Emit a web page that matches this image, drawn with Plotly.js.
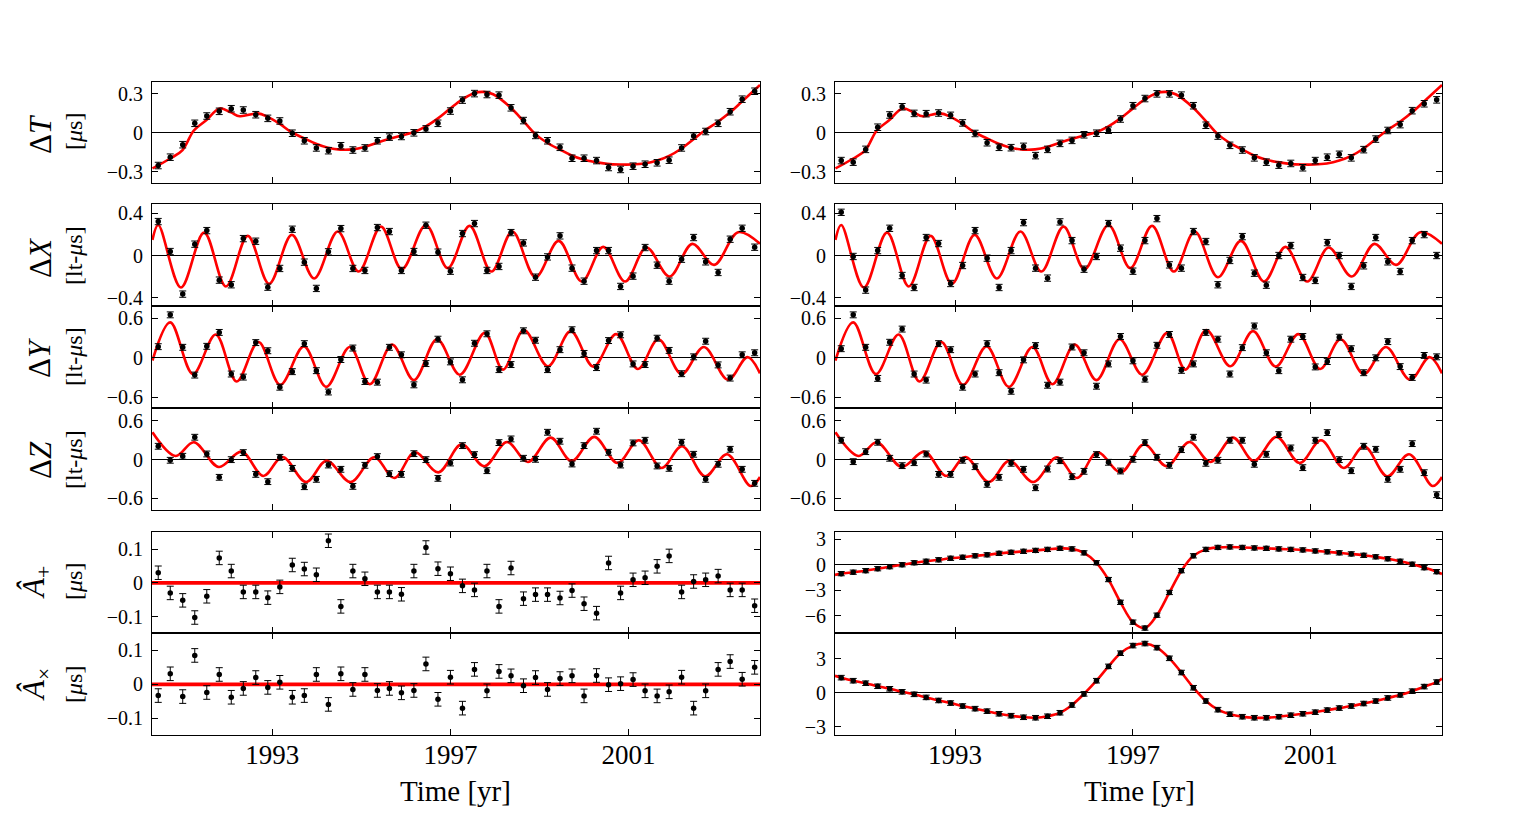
<!DOCTYPE html>
<html><head><meta charset="utf-8">
<script src="https://cdn.plot.ly/plotly-3.0.1.min.js"></script>
<style>html,body{margin:0;padding:0;background:#fff;overflow:hidden}</style>
</head><body><div id="chart" style="width:1517px;height:817px"></div>
<script>
// ---- data: observation epochs [yr] ----
const t = [1990.44,1990.71,1990.99,1991.26,1991.53,1991.81,1992.08,1992.35,1992.63,1992.90,
1993.17,1993.45,1993.72,1993.99,1994.26,1994.54,1994.81,1995.08,1995.36,1995.63,
1995.90,1996.18,1996.45,1996.72,1997.00,1997.27,1997.54,1997.82,1998.09,1998.36,
1998.64,1998.91,1999.18,1999.46,1999.73,2000.00,2000.28,2000.55,2000.82,2001.10,
2001.37,2001.64,2001.91,2002.19,2002.46,2002.73,2003.01,2003.28,2003.55,2003.83];

// ---- measured points (left column) ----
const dT_L = [-0.251,-0.187,-0.091,0.073,0.129,0.165,0.185,0.175,0.139,0.111,0.091,-0.003,-0.061,-0.116,-0.137,-0.099,-0.132,-0.116,-0.061,-0.033,-0.028,0.000,0.030,0.073,0.167,0.251,0.301,0.294,0.289,0.192,0.094,-0.020,-0.061,-0.111,-0.195,-0.195,-0.213,-0.266,-0.281,-0.256,-0.241,-0.230,-0.210,-0.116,-0.025,0.010,0.073,0.162,0.258,0.319];
const dX_L = [0.323,0.038,-0.367,0.108,0.237,-0.234,-0.278,0.161,0.136,-0.301,-0.123,0.250,-0.063,-0.313,0.035,0.256,-0.123,-0.142,0.266,0.228,-0.142,0.038,0.288,0.032,-0.149,0.209,0.304,-0.142,-0.104,0.218,0.120,-0.206,-0.013,0.187,-0.120,-0.244,0.047,0.047,-0.294,-0.196,0.076,-0.092,-0.244,-0.035,0.171,-0.060,-0.161,0.155,0.259,0.079];
const dY_L = [0.170,0.655,0.160,-0.263,0.175,0.387,-0.247,-0.294,0.232,0.108,-0.448,-0.211,0.216,-0.196,-0.521,-0.026,0.149,-0.361,-0.371,0.160,0.046,-0.412,-0.088,0.284,-0.062,-0.335,0.222,0.366,-0.180,-0.103,0.412,0.268,-0.180,0.124,0.428,0.067,-0.149,0.263,0.351,-0.093,-0.103,0.299,0.113,-0.242,0.015,0.253,-0.108,-0.309,0.046,0.077];
const dZ_L = [0.207,-0.010,0.052,0.347,0.088,-0.274,0.000,0.109,-0.228,-0.341,0.036,-0.135,-0.419,-0.305,-0.083,-0.150,-0.414,-0.088,0.047,-0.217,-0.228,0.093,0.000,-0.290,-0.052,0.217,0.078,-0.171,0.264,0.321,0.021,0.005,0.424,0.285,-0.067,0.217,0.440,0.114,-0.083,0.259,0.300,-0.098,-0.135,0.269,0.083,-0.305,-0.072,0.160,-0.150,-0.367];
const Ap_L = [0.030,-0.030,-0.052,-0.103,-0.040,0.074,0.035,-0.027,-0.027,-0.044,-0.012,0.053,0.041,0.024,0.125,-0.070,0.035,0.012,-0.027,-0.027,-0.034,0.035,0.105,0.042,0.027,-0.009,-0.021,0.035,-0.070,0.044,-0.047,-0.035,-0.035,-0.045,-0.023,-0.062,-0.090,0.059,-0.030,0.009,0.015,0.049,0.080,-0.027,0.004,0.009,0.020,-0.021,-0.021,-0.068];
const Ax_L = [-0.033,0.031,-0.036,0.085,-0.024,0.029,-0.038,-0.012,0.020,-0.009,0.006,-0.038,-0.033,0.029,-0.059,0.031,-0.015,0.029,-0.018,-0.012,-0.025,-0.018,0.060,-0.044,0.021,-0.070,0.044,-0.019,0.038,0.025,-0.004,0.020,-0.015,0.017,0.025,-0.034,0.026,-0.001,0.002,0.014,-0.019,-0.034,-0.022,0.021,-0.070,-0.019,0.044,0.067,0.015,0.050];

// ---- measured points (right column) ----
const dT_R = [-0.213,-0.225,-0.127,0.043,0.137,0.200,0.149,0.147,0.152,0.134,0.076,-0.005,-0.076,-0.111,-0.114,-0.104,-0.175,-0.127,-0.081,-0.058,-0.015,-0.003,0.020,0.106,0.208,0.263,0.299,0.299,0.289,0.208,0.058,-0.025,-0.096,-0.132,-0.192,-0.225,-0.248,-0.235,-0.268,-0.213,-0.187,-0.165,-0.192,-0.129,-0.048,0.018,0.063,0.170,0.223,0.253];
const dX_R = [0.411,-0.009,-0.329,0.047,0.259,-0.190,-0.304,0.171,0.114,-0.266,-0.095,0.237,-0.025,-0.304,0.047,0.313,-0.120,-0.215,0.320,0.142,-0.130,-0.009,0.304,0.070,-0.149,0.142,0.351,-0.089,-0.120,0.228,0.133,-0.278,-0.047,0.180,-0.168,-0.282,0.000,0.095,-0.209,-0.237,0.123,0.000,-0.294,-0.098,0.171,-0.060,-0.152,0.142,0.199,0.000];
const dY_R = [0.139,0.655,0.160,-0.314,0.237,0.438,-0.247,-0.340,0.216,0.124,-0.448,-0.247,0.216,-0.227,-0.510,-0.031,0.186,-0.418,-0.371,0.165,0.077,-0.433,-0.093,0.325,-0.046,-0.325,0.191,0.356,-0.191,-0.093,0.387,0.284,-0.247,0.155,0.485,0.077,-0.196,0.284,0.325,-0.139,-0.057,0.314,0.139,-0.227,0.000,0.247,-0.134,-0.299,0.036,0.015];
const dZ_R = [0.300,-0.031,0.124,0.269,0.021,-0.093,-0.047,0.088,-0.228,-0.228,-0.010,-0.109,-0.383,-0.274,-0.057,-0.150,-0.435,-0.145,-0.016,-0.264,-0.181,0.078,-0.041,-0.176,0.005,0.264,0.036,-0.088,0.155,0.347,-0.057,-0.010,0.300,0.300,-0.072,0.083,0.388,0.181,-0.124,0.300,0.419,0.000,-0.171,0.207,0.160,-0.305,-0.150,0.248,-0.202,-0.543];
const Ap_R = [-1.05,-0.88,-0.70,-0.47,-0.23,0.00,0.23,0.41,0.58,0.76,0.88,1.05,1.17,1.34,1.46,1.58,1.69,1.81,1.93,1.87,1.40,0.23,-1.75,-4.43,-6.77,-7.47,-5.95,-3.27,-0.70,1.05,1.81,2.04,2.10,2.04,1.98,1.93,1.87,1.81,1.75,1.63,1.52,1.40,1.28,1.11,0.93,0.70,0.41,0.06,-0.35,-0.82];
const Ax_R = [1.34,1.07,0.85,0.58,0.36,0.09,-0.13,-0.40,-0.67,-0.90,-1.16,-1.39,-1.61,-1.84,-2.01,-2.15,-2.19,-2.06,-1.75,-1.07,-0.09,1.07,2.33,3.49,4.16,4.34,3.98,3.04,1.79,0.45,-0.72,-1.48,-1.88,-2.10,-2.19,-2.19,-2.10,-1.97,-1.84,-1.70,-1.52,-1.34,-1.16,-0.94,-0.72,-0.45,-0.18,0.15,0.55,0.95];

// ---- error bar half-sizes ----
const errT = 0.025, errX = 0.03, errY = 0.045, errZ = 0.045, errA = 0.02, errApR = 0.25, errAxR = 0.2;

// ---- model curves (knots) ----
const tcT = [1990.31,1990.71,1990.98,1991.24,1991.51,1991.82,1992.07,1992.27,1992.67,1992.89,1993.17,1993.43,1993.71,1993.98,1994.25,1994.53,1994.80,1995.07,1995.35,1995.63,1995.91,1996.17,1996.44,1996.72,1996.98,1997.25,1997.53,1997.74,1997.96,1998.35,1998.63,1998.90,1999.17,1999.45,1999.71,1999.98,2000.26,2000.52,2000.80,2001.07,2001.36,2001.64,2001.91,2002.18,2002.45,2002.71,2002.99,2003.28,2003.54,2003.95];
const cT  = [-0.273,-0.197,-0.134,0.018,0.094,0.187,0.157,0.127,0.149,0.124,0.068,0.005,-0.041,-0.084,-0.114,-0.129,-0.127,-0.109,-0.076,-0.046,-0.020,0.005,0.048,0.111,0.182,0.253,0.304,0.314,0.296,0.195,0.094,-0.008,-0.076,-0.127,-0.172,-0.205,-0.225,-0.238,-0.243,-0.243,-0.235,-0.213,-0.177,-0.122,-0.051,0.018,0.081,0.157,0.238,0.367];
const tcX = [1990.31,1990.44,1990.95,1991.47,1991.96,1992.45,1992.93,1993.44,1993.94,1994.47,1994.94,1995.44,1995.91,1996.45,1996.94,1997.43,1997.92,1998.39,1998.91,1999.43,1999.95,2000.43,2000.92,2001.40,2001.92,2002.43,2002.92,2003.46,2003.95];
const cX  = [0.149,0.291,-0.304,0.218,-0.294,0.187,-0.269,0.196,-0.218,0.228,-0.152,0.275,-0.130,0.291,-0.120,0.282,-0.152,0.228,-0.206,0.139,-0.247,0.082,-0.247,0.076,-0.199,0.111,-0.089,0.222,0.111];
const tcY = [1990.31,1990.71,1991.22,1991.73,1992.20,1992.69,1993.18,1993.71,1994.21,1994.74,1995.19,1995.69,1996.18,1996.70,1997.21,1997.77,1998.18,1998.65,1999.19,1999.70,2000.21,2000.72,2001.21,2001.67,2002.19,2002.69,2003.23,2003.67,2003.95];
const cY  = [-0.041,0.541,-0.247,0.356,-0.361,0.242,-0.412,0.175,-0.443,0.165,-0.402,0.201,-0.340,0.284,-0.258,0.381,-0.180,0.423,-0.129,0.407,-0.134,0.361,-0.170,0.284,-0.247,0.165,-0.335,0.010,-0.237];
const tcZ = [1990.31,1990.83,1991.24,1991.80,1992.31,1992.80,1993.23,1993.76,1994.22,1994.76,1995.29,1995.74,1996.20,1996.73,1997.25,1997.76,1998.27,1998.74,1999.25,1999.72,2000.23,2000.75,2001.23,2001.74,2002.20,2002.72,2003.21,2003.74,2003.95];
const cZ  = [0.424,0.057,0.269,-0.114,0.124,-0.253,0.041,-0.347,-0.016,-0.347,0.036,-0.285,0.114,-0.197,0.238,-0.103,0.274,-0.036,0.341,-0.021,0.352,-0.052,0.300,-0.129,0.207,-0.259,0.083,-0.409,-0.269];
const tEdge = [1990.30, 2003.95];
const cFlat = [0, 0];
const cApEdge = [-1.2, -1.1];
const cAxEdge = [1.5, 1.25];

// ---- tick labels ----
const xTicks = [1993, 1997, 2001];
const yTicksT = [-0.3, 0, 0.3];
const yTicksX = [-0.4, 0, 0.4];
const yTicksYZ = [-0.6, 0, 0.6];
const yTicksA = [-0.1, 0, 0.1];
const yTicksApR = [-6, -3, 0, 3];
const yTicksAxR = [-3, 0, 3];

// ---- layout geometry ----
const W = 1517, H = 817;
const FONT = 'Liberation Serif, Times New Roman, serif';
const colX = [[152, 760], [835, 1442]];
const rowY = [[82,183],[204,306],[306,408],[408,510],[532,633],[633,735]];
const xRange = [1990.30, 2003.95];

const curveT_A = tEdge.slice(0,1).concat(t, tEdge.slice(1));
const panels = [
  // row, col, points, err, curve x, curve y, yrange, yticks, curve width
  [0,0,dT_L,errT,tcT,cT,[-0.385,0.39],yTicksT,2.6],
  [0,1,dT_R,errT,tcT,cT,[-0.385,0.39],yTicksT,2.6],
  [1,0,dX_L,errX,tcX,cX,[-0.48,0.49],yTicksX,2.6],
  [1,1,dX_R,errX,tcX,cX,[-0.48,0.49],yTicksX,2.6],
  [2,0,dY_L,errY,tcY,cY,[-0.765,0.79],yTicksYZ,2.6],
  [2,1,dY_R,errY,tcY,cY,[-0.765,0.79],yTicksYZ,2.6],
  [3,0,dZ_L,errZ,tcZ,cZ,[-0.78,0.80],yTicksYZ,2.6],
  [3,1,dZ_R,errZ,tcZ,cZ,[-0.78,0.80],yTicksYZ,2.6],
  [4,0,Ap_L,errA,tEdge,cFlat,[-0.149,0.151],yTicksA,3.6],
  [4,1,Ap_R,errApR,curveT_A,[cApEdge[0]].concat(Ap_R,[cApEdge[1]]),[-8.05,3.86],yTicksApR,2.6],
  [5,0,Ax_L,errA,tEdge,cFlat,[-0.149,0.151],yTicksA,3.6],
  [5,1,Ax_R,errAxR,curveT_A,[cAxEdge[0]].concat(Ax_R,[cAxEdge[1]]),[-3.71,5.27],yTicksAxR,2.6]
];

const data = [];
const layout = {
  width: W, height: H, autosize: false,
  margin: {l:0, r:0, t:0, b:0, pad:0},
  paper_bgcolor: '#fff', plot_bgcolor: '#fff',
  showlegend: false, hovermode: false,
  font: {family: FONT, color: '#000'},
  annotations: []
};

panels.forEach((p, i) => {
  const [r, c, pts, err, cx, cy, yr, yt, lw] = p;
  const n = i + 1, sfx = n === 1 ? '' : String(n);
  const xa = 'x' + sfx, ya = 'y' + sfx;
  data.push({type:'scatter', mode:'lines', x: cx, y: cy, xaxis: xa, yaxis: ya,
    line: {color:'#ff0000', width: lw, shape: 'spline', smoothing: 1}, hoverinfo:'skip'});
  data.push({type:'scatter', mode:'markers', x: t, y: pts, xaxis: xa, yaxis: ya,
    marker: {color:'#000', size: 5.5},
    error_y: {type:'constant', value: err, color:'#000', thickness: 1, width: 3.5}, hoverinfo:'skip'});
  layout['xaxis' + sfx] = {
    domain: [colX[c][0]/W, colX[c][1]/W], anchor: ya, range: xRange,
    tickmode: 'array', tickvals: xTicks, ticks: 'inside', ticklen: 6, tickwidth: 1, tickcolor: '#000',
    showline: true, linecolor: '#000', linewidth: 1, mirror: 'allticks',
    showgrid: false, zeroline: false, showticklabels: r === 5,
    tickfont: {family: FONT, size: 27, color: '#000'}, ticklabelstandoff: -4
  };
  layout['yaxis' + sfx] = {
    domain: [1 - rowY[r][1]/H, 1 - rowY[r][0]/H], anchor: xa, range: yr,
    tickmode: 'array', tickvals: yt, ticks: 'inside', ticklen: 6, tickwidth: 1, tickcolor: '#000',
    showline: true, linecolor: '#000', linewidth: 1, mirror: 'allticks',
    showgrid: false, zeroline: true, zerolinecolor: '#000', zerolinewidth: 1.2,
    tickfont: {family: FONT, size: 20, color: '#000'}, ticklabelstandoff: 4
  };
});

// ---- axis titles as annotations ----
function ann(text, px, py, size, angle) {
  layout.annotations.push({text, x: px/W, y: 1 - py/H, xref:'paper', yref:'paper',
    xanchor:'center', yanchor:'middle', showarrow:false, textangle: angle,
    font:{family: FONT, size, color:'#000'}});
}
ann('Δ<i>T</i>', 40, 134, 31, -90);
ann('[<i>μ</i>s]', 74, 132, 24, -90);
ann('Δ<i>X</i>', 40, 258, 31, -90);
ann('[lt-<i>μ</i>s]', 74, 256, 24, -90);
ann('Δ<i>Y</i>', 40, 358, 31, -90);
ann('[lt-<i>μ</i>s]', 74, 357, 24, -90);
ann('Δ<i>Z</i>', 40, 460, 31, -90);
ann('[lt-<i>μ</i>s]', 74, 460, 24, -90);
ann('<i>Â</i><sub>+</sub>', 36, 583, 31, -90);
ann('[<i>μ</i>s]', 74, 582, 24, -90);
ann('<i>Â</i><sub>×</sub>', 36, 685, 31, -90);
ann('[<i>μ</i>s]', 74, 685, 24, -90);
ann('Time [yr]', 456, 791, 29, 0);
ann('Time [yr]', 1139, 791, 29, 0);

Plotly.newPlot('chart', data, layout, {staticPlot: true, displayModeBar: false});
</script>
</body></html>
